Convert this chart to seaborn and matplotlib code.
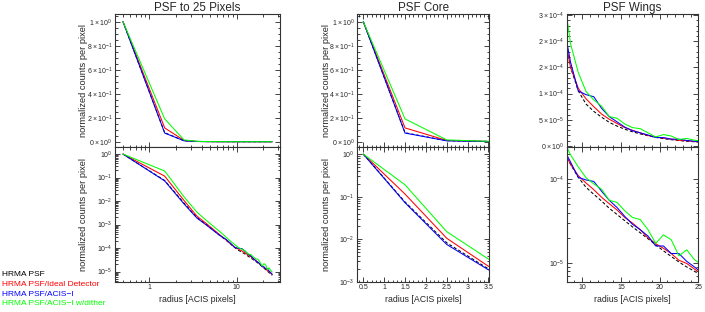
import numpy as np
import pandas as pd
import matplotlib
matplotlib.use("Agg")
import matplotlib.pyplot as plt
import seaborn as sns
from matplotlib.ticker import (FixedLocator, FixedFormatter, NullFormatter,
                               MultipleLocator, LogLocator)

# ---------------- data ----------------
radius = [0.5, 1.5, 2.5, 3.5, 4.5, 5.5, 6.5, 7.5, 8.5, 9.5, 10.5, 11.5, 12.5,
          13.5, 14.5, 15.5, 16.5, 17.5, 18.5, 19.5, 20.5, 21.5, 22.5, 23.5,
          24.5, 25.5]
hrma = [1.0, 0.075, 0.0082, 0.0020, 1.0e-3, 5.5e-4, 3.3e-4, 2.2e-4, 1.5e-4,
        1.05e-4, 8.0e-5, 6.6e-5, 5.5e-5, 4.5e-5, 3.8e-5, 3.2e-5, 2.7e-5,
        2.3e-5, 1.95e-5, 1.65e-5, 1.4e-5, 1.2e-5, 1.03e-5, 9.0e-6, 8.0e-6,
        7.0e-6]
ideal = [1.0, 0.115, 0.0105, 0.0023, 1.1e-3, 5.9e-4, 3.5e-4, 2.3e-4, 1.5e-4,
         1.1e-4, 9.0e-5, 7.5e-5, 6.1e-5, 5.1e-5, 4.3e-5, 3.5e-5, 3.0e-5,
         2.5e-5, 2.0e-5, 1.7e-5, 1.5e-5, 1.3e-5, 1.08e-5, 9.9e-6, 8.5e-6,
         7.3e-6]
acis = [1.0, 0.072, 0.0075, 0.0019, 9.5e-4, 5.3e-4, 3.3e-4, 2.4e-4, 1.6e-4,
        1.05e-4, 9.8e-5, 9.4e-5, 7.2e-5, 5.6e-5, 4.6e-5, 3.6e-5, 2.9e-5,
        2.5e-5, 2.1e-5, 1.6e-5, 1.6e-5, 1.3e-5, 1.3e-5, 1.05e-5, 9.0e-6,
        7.6e-6]
dither = [1.0, 0.19, 0.015, 0.0034, 1.5e-3, 8.0e-4, 4.8e-4, 3.0e-4, 1.95e-4,
          1.4e-4, 1.04e-4, 8.8e-5, 7.6e-5, 5.6e-5, 5.3e-5, 4.2e-5, 3.5e-5,
          3.3e-5, 2.5e-5, 1.72e-5, 2.17e-5, 1.9e-5, 1.22e-5, 1.44e-5, 1.1e-5,
          9.5e-6]

series_names = ["HRMA PSF", "HRMA PSF/Ideal Detector", "HRMA PSF/ACIS\u2212I",
                "HRMA PSF/ACIS\u2212I w/dither"]
series_values = [hrma, ideal, acis, dither]
colors = ["#000000", "#ff0000", "#0000ff", "#00ff00"]
titles = ["PSF to 25 Pixels", "PSF Core", "PSF Wings"]

lin_ticks = [0.0, 0.2, 0.4, 0.6, 0.8, 1.0]
lin_labels = [r"$0\times10^{0}$", r"$2\times10^{-1}$", r"$4\times10^{-1}$",
              r"$6\times10^{-1}$", r"$8\times10^{-1}$", r"$1\times10^{0}$"]
wing_ticks = [0.0, 5e-5, 1e-4, 1.5e-4, 2e-4, 2.5e-4]
wing_labels = [r"$0\times10^{0}$", r"$5\times10^{-5}$", r"$1\times10^{-4}$",
               r"$2\times10^{-4}$", r"$2\times10^{-4}$", r"$3\times10^{-4}$"]
core_xticks = [0.5, 1.0, 1.5, 2.0, 2.5, 3.0, 3.5]
core_xlabels = ["0.5", "1", "1.5", "2", "2.5", "3", "3.5"]
wing_xticks = [10, 15, 20, 25]
wing_xlabels = ["10", "15", "20", "25"]
full_xticks = [1, 10]
full_xlabels = ["1", "10"]

df = pd.DataFrame({
    "radius": np.tile(radius, len(series_names)),
    "value": np.concatenate(series_values),
    "series": np.repeat(series_names, len(radius)),
})

# ---------------- style ----------------
sns.set_style("ticks")
plt.rcParams["font.family"] = ["Liberation Sans", "DejaVu Sans"]
plt.rcParams["mathtext.fontset"] = "custom"
plt.rcParams["mathtext.rm"] = "Liberation Sans"
plt.rcParams["mathtext.it"] = "Liberation Sans:italic"
plt.rcParams["axes.unicode_minus"] = True

W, H = 705, 312
fig = plt.figure(figsize=(W / 100, H / 100), dpi=100)

cols = [(115, 280), (357.3, 489.3), (566.7, 698.3)]
top_rows = (14, 147)
bot_rows = (147, 281.7)


def make_ax(xs, ys):
    x0, x1 = xs
    y0, y1 = ys
    return fig.add_axes([x0 / W, 1 - y1 / H, (x1 - x0) / W, (y1 - y0) / H])


palette = dict(zip(series_names, colors))
dashes = {n: "" for n in series_names}
dashes[series_names[0]] = (3, 2)


def draw(ax):
    sns.lineplot(data=df, x="radius", y="value", hue="series",
                 hue_order=series_names, palette=palette, style="series",
                 style_order=series_names, dashes=dashes, legend=False,
                 estimator=None, sort=False, lw=0.75, ax=ax)
    ax.set_xlabel("")
    ax.set_ylabel("")


def style_ax(ax):
    ax.tick_params(which="both", direction="in", top=True, right=True,
                   labelsize=5.0, pad=2, width=0.6, color="#222222")
    ax.tick_params(which="major", length=3.5)
    ax.tick_params(which="minor", length=1.8)
    for s in ax.spines.values():
        s.set_linewidth(0.8)
        s.set_color("#333333")


axes = []
for i, xs in enumerate(cols):
    at = make_ax(xs, top_rows)
    ab = make_ax(xs, bot_rows)
    draw(at)
    draw(ab)
    for ax in (at, ab):
        style_ax(ax)
    at.set_title(titles[i], fontsize=8.4, pad=1.5)
    at.tick_params(labelbottom=False)
    axes.append((at, ab))

# column 1: PSF to 25 pixels
at, ab = axes[0]
for ax in (at, ab):
    ax.set_xscale("log")
    ax.set_xlim(0.405, 31.3)
    ax.xaxis.set_major_locator(FixedLocator(full_xticks))
    ax.xaxis.set_major_formatter(FixedFormatter(full_xlabels))
    ax.xaxis.set_minor_locator(LogLocator(base=10, subs=np.arange(2, 10)))
    ax.xaxis.set_minor_formatter(NullFormatter())
at.set_ylim(-0.044, 1.064)
at.yaxis.set_major_locator(FixedLocator(lin_ticks))
at.yaxis.set_major_formatter(FixedFormatter(lin_labels))
at.yaxis.set_minor_locator(MultipleLocator(0.05))
ab.set_yscale("log")
ab.set_ylim(3.7e-6, 2.0)

# column 2: PSF core
at, ab = axes[1]
for ax in (at, ab):
    ax.set_xlim(0.356, 3.52)
    ax.xaxis.set_major_locator(FixedLocator(core_xticks))
    ax.xaxis.set_major_formatter(FixedFormatter(core_xlabels))
    ax.xaxis.set_minor_locator(MultipleLocator(0.1))
at.set_ylim(-0.044, 1.064)
at.yaxis.set_major_locator(FixedLocator(lin_ticks))
at.yaxis.set_major_formatter(FixedFormatter(lin_labels))
at.yaxis.set_minor_locator(MultipleLocator(0.05))
ab.set_yscale("log")
ab.set_ylim(1e-3, 1.47)

# column 3: PSF wings
at, ab = axes[2]
for ax in (at, ab):
    ax.set_xlim(8, 25)
    ax.xaxis.set_major_locator(FixedLocator(wing_xticks))
    ax.xaxis.set_major_formatter(FixedFormatter(wing_xlabels))
    ax.xaxis.set_minor_locator(MultipleLocator(1))
at.set_ylim(-0.02e-4, 2.52e-4)
at.yaxis.set_major_locator(FixedLocator(wing_ticks))
at.yaxis.set_major_formatter(FixedFormatter(wing_labels))
at.yaxis.set_minor_locator(MultipleLocator(1e-5))
ab.set_yscale("log")
ab.set_ylim(6e-6, 2.42e-4)

for at, ab in axes:
    for ax in (at, ab):
        if ax.get_yscale() == "log":
            ax.yaxis.set_minor_locator(LogLocator(base=10, subs=np.arange(2, 10)))
            ax.yaxis.set_minor_formatter(NullFormatter())

# y labels (first two columns) and x labels
for (x0, x1), off in zip(cols[:2], (31, 31)):
    for (y0, y1) in (top_rows, bot_rows):
        fig.text((x0 - off) / W, 1 - ((y0 + y1) / 2) / H,
                 "normalized counts per pixel", rotation=90,
                 ha="center", va="center", fontsize=6.7)
for (x0, x1) in cols:
    fig.text(((x0 + x1) / 2) / W, 1 - 300 / H, "radius [ACIS pixels]",
             ha="center", va="center", fontsize=6.3)

# legend text
for name, c, y in zip(series_names, colors, (275, 284.5, 294, 303.5)):
    fig.text(2 / W, 1 - y / H, name, color=c, ha="left", va="center",
             fontsize=6.0)

fig.savefig("out.png", dpi=100)
